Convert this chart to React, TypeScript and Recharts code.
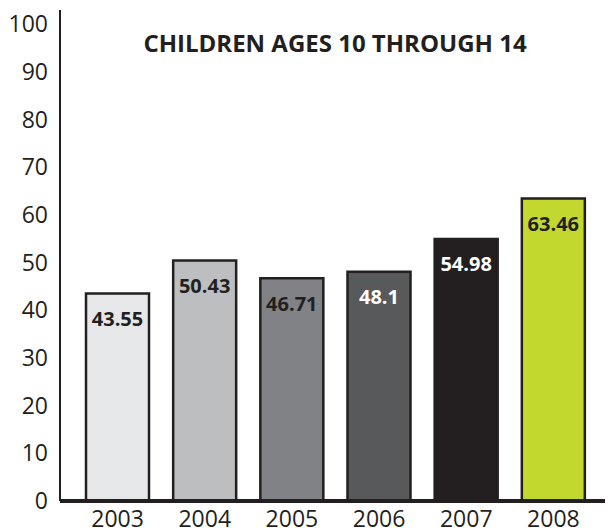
import React from "react";
import { BarChart, Bar, XAxis, YAxis, Cell, LabelList } from "recharts";

const years = ["2003", "2004", "2005", "2006", "2007", "2008"];
const values = [43.55, 50.43, 46.71, 48.1, 54.98, 63.46];
const barColors = ["#e6e7e8", "#bcbec0", "#808285", "#58595b", "#231f20", "#c2d82e"];
const labelColors = ["#231f20", "#231f20", "#231f20", "#ffffff", "#ffffff", "#231f20"];
const yTicks = [0, 10, 20, 30, 40, 50, 60, 70, 80, 90, 100];
const title = "CHILDREN AGES 10 THROUGH 14";

const data = years.map((y, i) => ({ year: y, value: values[i], idx: i }));

const FONT = "'Open Sans', 'Noto Sans', sans-serif";

const BarLabel = (props: any) => {
  const { x, y, width, value, index } = props;
  return (
    <text
      x={x + width / 2}
      y={y + 25}
      textAnchor="middle"
      dominantBaseline="central"
      fill={labelColors[index]}
      fontFamily={FONT}
      fontWeight={700}
      fontSize={20}
    >
      {value}
    </text>
  );
};

export default function App() {
  return (
    <div style={{ position: "absolute", left: 0, top: 0, width: 608, height: 531, background: "#fff" }}>
      <BarChart
        width={608}
        height={531}
        data={data}
        margin={{ top: 10, right: 3, bottom: 0, left: 0 }}
        barSize={63}
      >
        <XAxis
          dataKey="year"
          height={30}
          axisLine={{ stroke: "#231f20", strokeWidth: 4 }}
          tickLine={false}
          tickSize={0}
          tickMargin={10}
          padding={{ left: 14, right: 8 }}
          tick={{ fill: "#231f20", fontFamily: FONT, fontSize: 23 }}
          interval={0}
        />
        <YAxis
          width={60}
          domain={[0, 103]}
          ticks={yTicks}
          axisLine={{ stroke: "#231f20", strokeWidth: 2 }}
          tickLine={false}
          tickSize={0}
          tickMargin={12}
          tick={{ fill: "#231f20", fontFamily: FONT, fontSize: 23 }}
          interval={0}
        />
        <Bar dataKey="value" isAnimationActive={false} stroke="#231f20" strokeWidth={2.5}>
          {data.map((d, i) => (
            <Cell key={d.year} fill={barColors[i]} />
          ))}
          <LabelList dataKey="value" content={<BarLabel />} />
        </Bar>
      </BarChart>
      <div
        style={{
          position: "absolute",
          left: 0,
          top: 27,
          width: 670,
          textAlign: "center",
          fontFamily: FONT,
          fontWeight: 700,
          fontSize: 24,
          color: "#231f20",
          lineHeight: "32px",
          letterSpacing: 0,
        }}
      >
        {title}
      </div>
    </div>
  );
}
